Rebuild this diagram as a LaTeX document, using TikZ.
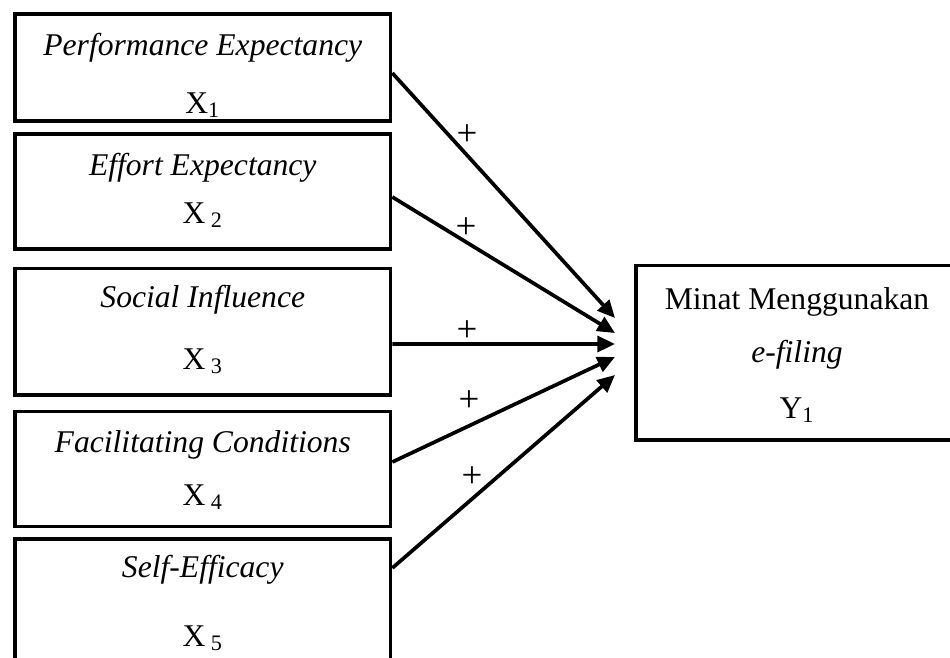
\documentclass[tikz,border=0pt]{standalone}
\usepackage{fontspec}
\setmainfont{Liberation Serif}
\usetikzlibrary{arrows.meta, positioning, calc}

\begin{document}
\begin{tikzpicture}[
    x=0.02cm, y=-0.02cm,
    box/.style={rectangle, draw, line width=2.1pt, minimum width=7.51cm, inner sep=0pt},
    txt/.style={anchor=base, inner sep=0pt, font=\fontsize{18}{22}\selectfont},
    sign/.style={inner sep=0pt, font=\fontsize{21}{25}\selectfont},
    line/.style={draw, line width=2.1pt, -{Triangle[length=10pt, width=9pt]}}
]
\useasboundingbox (0,0) rectangle (950,657);
\clip (0,0) rectangle (950,657);

% Boxes
\node [box, minimum height=2.14cm] (pe) at (202.75,67.5) {};
\node [box, minimum height=2.30cm] (ee) at (202.75,191.5) {};
\node [box, minimum height=2.53cm] (si) at (202.75,331.75) {};
\node [box, minimum height=2.30cm] (fc) at (202.75,469) {};
\node [box, minimum height=2.62cm] (se) at (202.75,604.5) {};
\node [box, minimum width=6.44cm, minimum height=3.49cm] (minat) at (797,352.75) {};

% Texts
\node [txt] (pe1) at (202.75,55) {\textit{Performance Expectancy}};
\node [txt] (pe2) at (202.75,113) {X\textsubscript{1}};
\node [txt] (ee1) at (202.75,175) {\textit{Effort Expectancy}};
\node [txt] (ee2) at (202.75,223) {X\,\textsubscript{2}};
\node [txt] (si1) at (202.75,307) {\textit{Social Influence}};
\node [txt] (si2) at (202.75,369) {X\,\textsubscript{3}};
\node [txt] (fc1) at (202.75,452) {\textit{Facilitating Conditions}};
\node [txt] (fc2) at (202.75,505) {X\,\textsubscript{4}};
\node [txt] (se1) at (202.75,577) {\textit{Self-Efficacy}};
\node [txt] (se2) at (202.75,646) {X\,\textsubscript{5}};
\node [txt] (minat1) at (797,309) {Minat Menggunakan};
\node [txt] (minat2) at (797,362) {\textit{e-filing}};
\node [txt] (minat3) at (797,418) {Y\textsubscript{1}};

% Arrow ends
\coordinate (e1) at (615,318);
\coordinate (e2) at (615,333);
\coordinate (e3) at (615,344);
\coordinate (e4) at (615,357);
\coordinate (e5) at (615,375);

% Edges
\path [line] ([yshift=-0.11cm]pe.east) -- (e1);
\path [line] ([yshift=-0.11cm]ee.east) -- (e2);
\path [line] ([yshift=-0.245cm]si.east) -- (e3);
\path [line] ([yshift=0.14cm]fc.east) -- (e4);
\path [line] ([yshift=0.73cm]se.east) -- (e5);

% Signs
\node [sign] (p1) at (467,135) {+};
\node [sign] (p2) at (466,228) {+};
\node [sign] (p3) at (467,331) {+};
\node [sign] (p4) at (469,401) {+};
\node [sign] (p5) at (472,477) {+};
\end{tikzpicture}
\end{document}
